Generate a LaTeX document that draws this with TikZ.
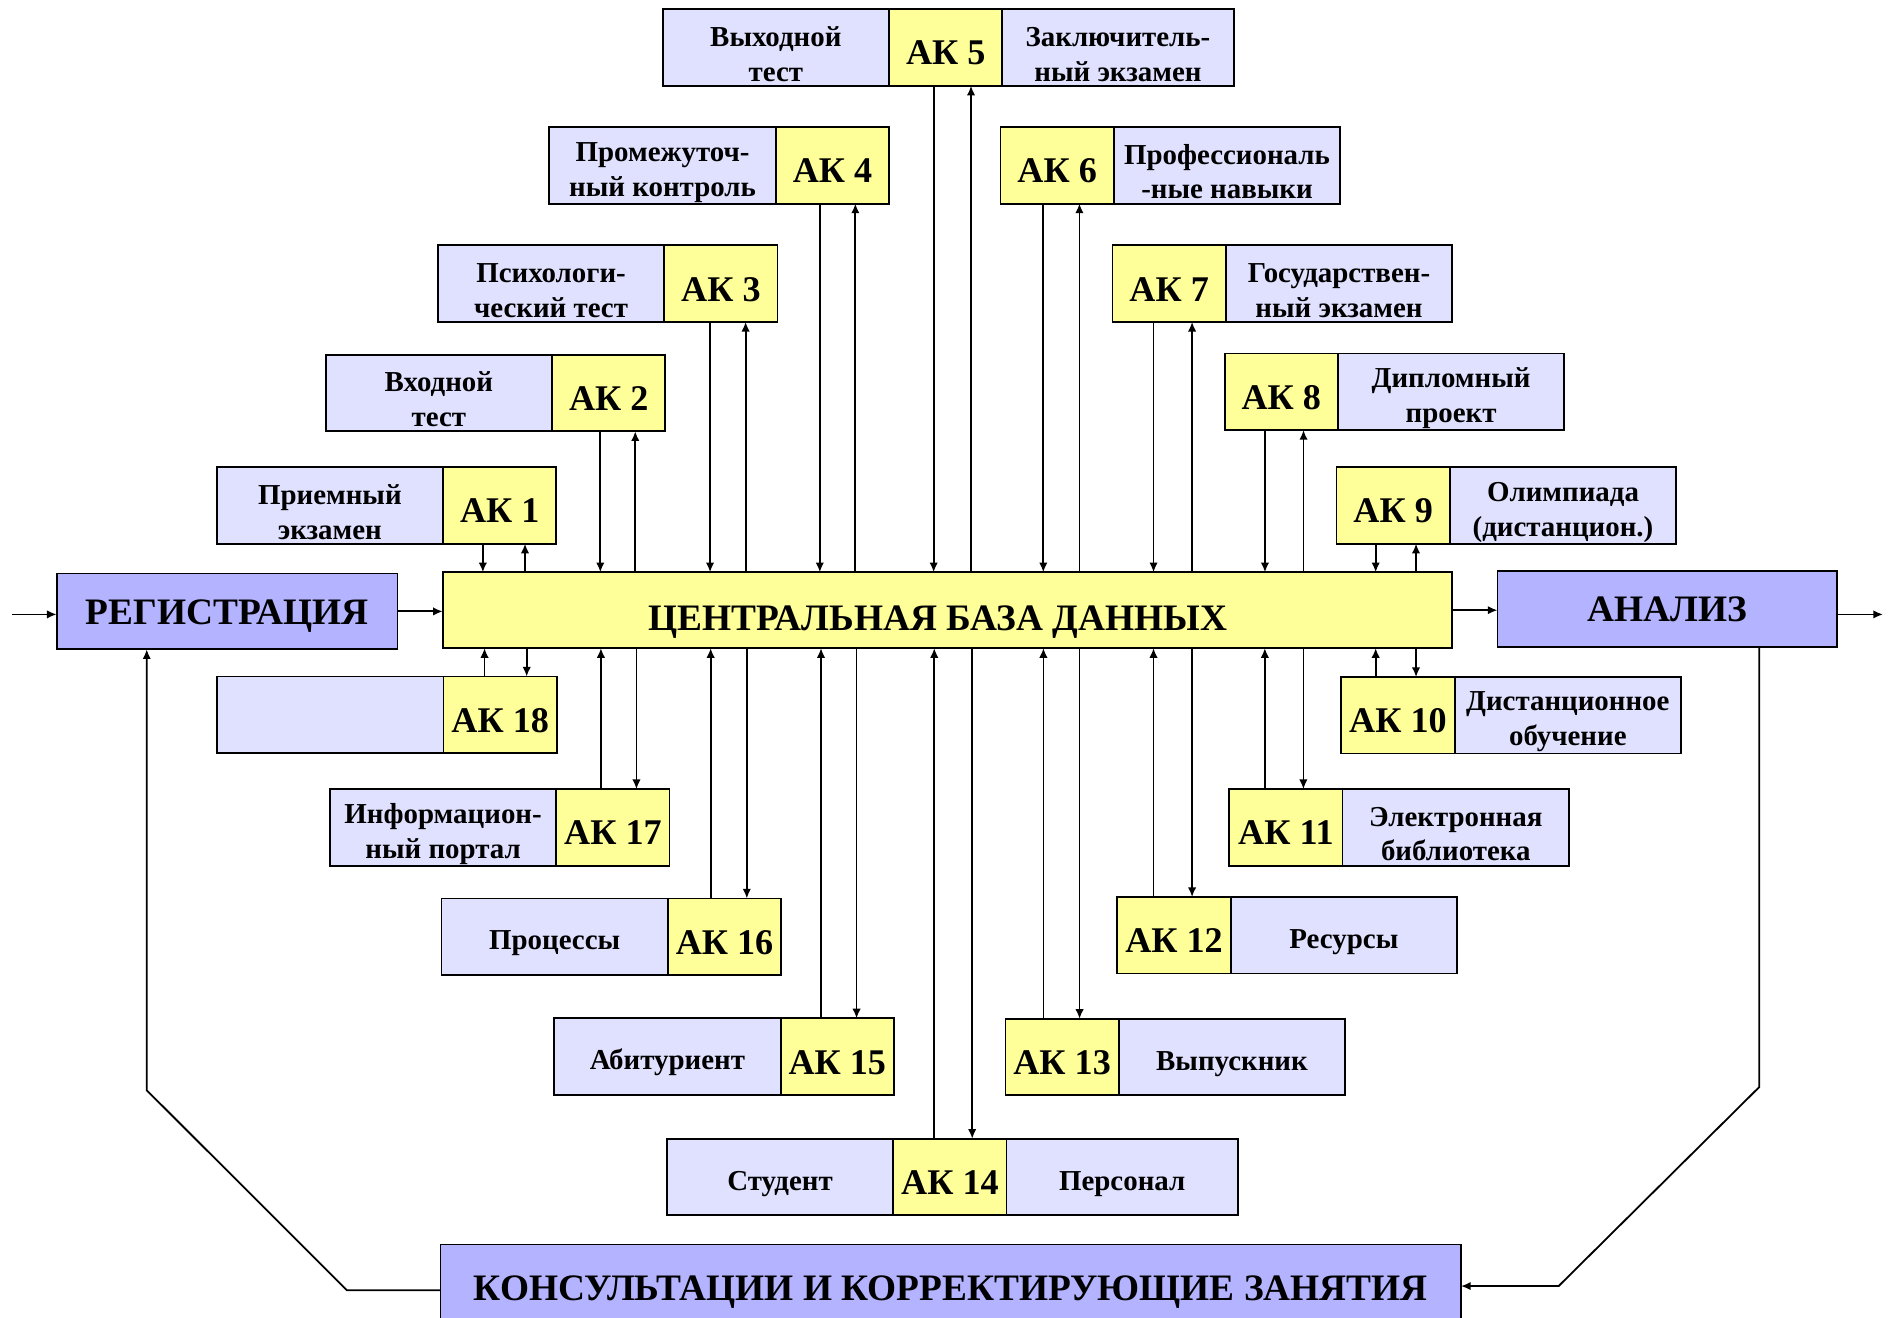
\documentclass[tikz,border=0pt]{standalone}
\usepackage{fontspec}
\setmainfont{Liberation Serif}
\usetikzlibrary{positioning,arrows.meta}

\definecolor{akyellow}{RGB}{255,255,153}
\definecolor{txtlilac}{RGB}{224,224,255}
\definecolor{mainblue}{RGB}{179,179,255}

\tikzset{every picture/.style={line width=1.5pt}}
\tikzset{
  akbox/.style={draw, line width=1.5pt, fill=akyellow, minimum width=94pt, minimum height=63.5pt, inner sep=0pt, outer sep=0pt, text height=29pt, text depth=0pt, font=\bfseries\fontsize{30}{30}\selectfont},
  txtbox/.style={draw, line width=1.5pt, fill=txtlilac, minimum width=188pt, minimum height=63.5pt, inner sep=0pt, outer sep=0pt, align=center, execute at begin node={\rule{0pt}{#1}}, font=\bfseries\fontsize{24}{29}\selectfont},
  txtbox/.default=27pt,
  mainbox/.style={draw, line width=1.5pt, fill=mainblue, minimum height=63pt, inner sep=0pt, outer sep=0pt, text height=21pt, text depth=0pt, font=\bfseries\fontsize{31}{31}\selectfont},
  arr/.style={-{Latex[length=8pt,width=7pt]}},
}

\begin{document}
\begin{tikzpicture}[x=1pt,y=1pt,yscale=-1,xscale=1]
\useasboundingbox (0,0) rectangle (1568,1094);

%Shape: Rectangle (main chain)
\node[mainbox, minimum width=283pt, anchor=north west] (reg) at (47,476) {РЕГИСТРАЦИЯ};
\node[mainbox, fill=akyellow, minimum width=838pt, text height=34pt, anchor=north west] (db) at (367.5,475) {ЦЕНТРАЛЬНАЯ БАЗА ДАННЫХ\hspace*{16pt}};
\node[mainbox, minimum width=282pt, anchor=north west] (ana) at (1243,474) {АНАЛИЗ};
\node[mainbox, minimum width=847pt, minimum height=72pt, anchor=north west] (cons) at (365.7,1033) {КОНСУЛЬТАЦИИ И КОРРЕКТИРУЮЩИЕ ЗАНЯТИЯ};

%Shape: Rectangle (upper left)
\node[akbox, anchor=north west] (ak1) at (367.8,387.8) {АК 1};
\node[txtbox=56pt, left=0pt of ak1] (t1) {Приемный\\экзамен};
\node[akbox, anchor=north west] (ak2) at (458.3,294.5) {АК 2};
\node[txtbox=56pt, left=0pt of ak2] (t2) {Входной\\тест};
\node[akbox, anchor=north west] (ak3) at (551.4,203.7) {АК 3};
\node[txtbox=56pt, left=0pt of ak3] (t3) {Психологи-\\ческий тест};
\node[akbox, anchor=north west] (ak4) at (644,105.5) {АК 4};
\node[txtbox=56pt, left=0pt of ak4] (t4) {Промежуточ-\\ный контроль};
\node[akbox, anchor=north west] (ak5) at (738,7.7) {АК 5};
\node[txtbox=56pt, left=0pt of ak5] (t5a) {Выходной\\тест};
\node[txtbox=56pt, minimum width=192pt, right=0pt of ak5] (t5b) {Заключитель-\\ный экзамен};

%Shape: Rectangle (upper right)
\node[akbox, anchor=north west] (ak6) at (830.5,105.5) {АК 6};
\node[txtbox=56pt, right=0pt of ak6] (t6) {Профессиональ\\-ные навыки};
\node[akbox, anchor=north west] (ak7) at (923.5,203.7) {АК 7};
\node[txtbox=56pt, right=0pt of ak7] (t7) {Государствен-\\ный экзамен};
\node[akbox, anchor=north west] (ak8) at (1016.5,293.5) {АК 8};
\node[txtbox=56pt, right=0pt of ak8] (t8) {Дипломный\\проект};
\node[akbox, anchor=north west] (ak9) at (1109.4,387.8) {АК 9};
\node[txtbox=56pt, right=0pt of ak9] (t9) {Олимпиада\\(дистанцион.)};

%Shape: Rectangle (lower right)
\node[akbox, anchor=north west] (ak10) at (1113.4,562) {АК 10};
\node[txtbox=56pt, right=0pt of ak10] (t10) {Дистанционное\\обучение};
\node[akbox, anchor=north west] (ak11) at (1020.4,655) {АК 11};
\node[txtbox=56pt, right=0pt of ak11] (t11) {Электронная\\библиотека};
\node[akbox, anchor=north west] (ak12) at (927.5,744.6) {АК 12};
\node[txtbox, right=0pt of ak12] (t12) {Ресурсы};
\node[akbox, anchor=north west] (ak13) at (834.6,845.7) {АК 13};
\node[txtbox, right=0pt of ak13] (t13) {Выпускник};
\node[akbox, anchor=north west] (ak14) at (741.5,945.2) {АК 14};
\node[txtbox, left=0pt of ak14] (t14a) {Студент};
\node[txtbox, minimum width=192pt, right=0pt of ak14] (t14b) {Персонал};

%Shape: Rectangle (lower left)
\node[akbox, anchor=north west] (ak15) at (648,845.3) {АК 15};
\node[txtbox, left=0pt of ak15] (t15) {Абитуриент};
\node[akbox, anchor=north west] (ak16) at (554.4,745.8) {АК 16};
\node[txtbox, left=0pt of ak16] (t16) {Процессы};
\node[akbox, anchor=north west] (ak17) at (461.8,655) {АК 17};
\node[txtbox=56pt, left=0pt of ak17] (t17) {Информацион-\\ный портал};
\node[akbox, anchor=north west] (ak18) at (368.2,561.6) {АК 18};
\node[txtbox, left=0pt of ak18] (t18) {};

%Straight Lines (main chain)
\coordinate (in) at (10,510);
\coordinate (out) at (1563,510);
\draw[arr] (in) -- (in -| reg.west);
\draw[arr] (reg.east) -- (reg.east -| db.west);
\draw[arr] (db.east) -- (db.east -| ana.west);
\draw[arr] (ana.east |- out) -- (out);

%Straight Lines (feedback)
\coordinate (fl1) at (288,1071);
\coordinate (fl2) at (121.8,905);
\coordinate (fr1) at (1460.2,902.4);
\coordinate (fr2) at (1293.8,1067.5);
\draw[arr] (cons.west |- fl1) -- (fl1) -- (fl2) -- (fl2 |- reg.south);
\draw[arr] (fr1 |- ana.south) -- (fr1) -- (fr2) -- (fr2 -| cons.east);

%Straight Lines (upper controls)
\draw[arr] ([xshift=-14pt]ak1.south) -- ([xshift=-14pt]ak1.south |- db.north);
\draw[arr] ([xshift=21pt]ak1.south |- db.north) -- ([xshift=21pt]ak1.south);
\draw[arr] ([xshift=-7pt]ak2.south) -- ([xshift=-7pt]ak2.south |- db.north);
\draw[arr] ([xshift=22pt]ak2.south |- db.north) -- ([xshift=22pt]ak2.south);
\draw[arr] ([xshift=-9pt]ak3.south) -- ([xshift=-9pt]ak3.south |- db.north);
\draw[arr] ([xshift=20.5pt]ak3.south |- db.north) -- ([xshift=20.5pt]ak3.south);
\draw[arr] ([xshift=-10.5pt]ak4.south) -- ([xshift=-10.5pt]ak4.south |- db.north);
\draw[arr] ([xshift=19pt]ak4.south |- db.north) -- ([xshift=19pt]ak4.south);
\draw[arr] ([xshift=-10pt]ak5.south) -- ([xshift=-10pt]ak5.south |- db.north);
\draw[arr] ([xshift=21pt]ak5.south |- db.north) -- ([xshift=21pt]ak5.south);
\draw[arr] ([xshift=-11.5pt]ak6.south) -- ([xshift=-11.5pt]ak6.south |- db.north);
\draw[arr] ([xshift=18.5pt]ak6.south |- db.north) -- ([xshift=18.5pt]ak6.south);
\draw[arr] ([xshift=-13pt]ak7.south) -- ([xshift=-13pt]ak7.south |- db.north);
\draw[arr] ([xshift=19pt]ak7.south |- db.north) -- ([xshift=19pt]ak7.south);
\draw[arr] ([xshift=-13.5pt]ak8.south) -- ([xshift=-13.5pt]ak8.south |- db.north);
\draw[arr] ([xshift=18.5pt]ak8.south |- db.north) -- ([xshift=18.5pt]ak8.south);
\draw[arr] ([xshift=-14.5pt]ak9.south) -- ([xshift=-14.5pt]ak9.south |- db.north);
\draw[arr] ([xshift=19pt]ak9.south |- db.north) -- ([xshift=19pt]ak9.south);

%Straight Lines (lower controls)
\draw[arr] ([xshift=-18.5pt]ak10.north) -- ([xshift=-18.5pt]ak10.north |- db.south);
\draw[arr] ([xshift=15pt]ak10.north |- db.south) -- ([xshift=15pt]ak10.north);
\draw[arr] ([xshift=-17.5pt]ak11.north) -- ([xshift=-17.5pt]ak11.north |- db.south);
\draw[arr] ([xshift=14.5pt]ak11.north |- db.south) -- ([xshift=14.5pt]ak11.north);
\draw[arr] ([xshift=-17pt]ak12.north) -- ([xshift=-17pt]ak12.north |- db.south);
\draw[arr] ([xshift=15pt]ak12.north |- db.south) -- ([xshift=15pt]ak12.north);
\draw[arr] ([xshift=-15.5pt]ak13.north) -- ([xshift=-15.5pt]ak13.north |- db.south);
\draw[arr] ([xshift=14.5pt]ak13.north |- db.south) -- ([xshift=14.5pt]ak13.north);
\draw[arr] ([xshift=-13pt]ak14.north) -- ([xshift=-13pt]ak14.north |- db.south);
\draw[arr] ([xshift=18.5pt]ak14.north |- db.south) -- ([xshift=18.5pt]ak14.north);
\draw[arr] ([xshift=-13.5pt]ak15.north) -- ([xshift=-13.5pt]ak15.north |- db.south);
\draw[arr] ([xshift=16pt]ak15.north |- db.south) -- ([xshift=16pt]ak15.north);
\draw[arr] ([xshift=-11.5pt]ak16.north) -- ([xshift=-11.5pt]ak16.north |- db.south);
\draw[arr] ([xshift=18.5pt]ak16.north |- db.south) -- ([xshift=18.5pt]ak16.north);
\draw[arr] ([xshift=-10pt]ak17.north) -- ([xshift=-10pt]ak17.north |- db.south);
\draw[arr] ([xshift=19.5pt]ak17.north |- db.south) -- ([xshift=19.5pt]ak17.north);
\draw[arr] ([xshift=-13pt]ak18.north) -- ([xshift=-13pt]ak18.north |- db.south);
\draw[arr] ([xshift=22pt]ak18.north |- db.south) -- ([xshift=22pt]ak18.north);

\end{tikzpicture}
\end{document}
